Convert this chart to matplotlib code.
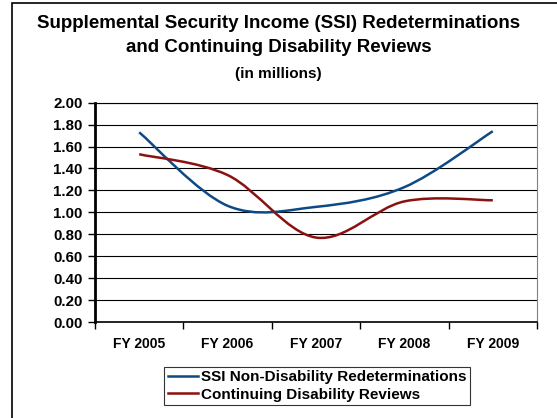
import numpy as np
import matplotlib
matplotlib.use("Agg")
from matplotlib import pyplot as plt
from matplotlib.path import Path
from matplotlib.patches import PathPatch, Rectangle
from matplotlib.lines import Line2D

# donnees (en millions)
years = ["FY 2005", "FY 2006", "FY 2007", "FY 2008", "FY 2009"]
ssi_redet = [1.73, 1.06, 1.05, 1.23, 1.74]
cdr = [1.53, 1.34, 0.77, 1.10, 1.11]
yticks = [0.0, 0.2, 0.4, 0.6, 0.8, 1.0, 1.2, 1.4, 1.6, 1.8, 2.0]

plt.rcParams['font.family'] = ['Liberation Sans', 'DejaVu Sans']
plt.rcParams['font.weight'] = 'bold'


def smooth_path(xs, ys):
    # courbe lissee facon Excel (Catmull-Rom -> Bezier)
    pts = np.column_stack([xs, ys]).astype(float)
    n = len(pts)
    verts = [pts[0]]
    codes = [Path.MOVETO]
    for i in range(n - 1):
        p0 = pts[max(i - 1, 0)]
        p1 = pts[i]
        p2 = pts[i + 1]
        p3 = pts[min(i + 2, n - 1)]
        c1 = p1 + (p2 - p0) / 6
        c2 = p2 - (p3 - p1) / 6
        verts += [c1, c2, p2]
        codes += [Path.CURVE4] * 3
    return Path(verts, codes)


fig = plt.figure(figsize=(5.57, 4.18), dpi=100)
ax = fig.add_axes([95/557, (418-322)/418, (537-95)/557, (322-102.7)/418])

x = np.arange(len(years))
blue = '#0d4a85'
red = '#8b1010'
ax.add_patch(PathPatch(smooth_path(x, ssi_redet), fill=False, edgecolor=blue, lw=1.8, zorder=3))
ax.add_patch(PathPatch(smooth_path(x, cdr), fill=False, edgecolor=red, lw=1.8, zorder=3))

ax.set_xlim(-0.5, len(years) - 0.5)
ax.set_ylim(0, 2.0)
ax.set_yticks(yticks)
ax.set_yticklabels(["%.2f" % v for v in yticks], fontsize=10.8, fontweight='bold')
ax.set_xticks(x)
ax.set_xticklabels(years, fontsize=10, fontweight='bold')
ax.set_xticks(np.arange(len(years) + 1) - 0.5, minor=True)
ax.tick_params(axis='x', which='major', length=0, pad=11)
ax.tick_params(axis='x', which='minor', length=5, width=1, color='black')
ax.tick_params(axis='y', length=5, width=1, pad=4)
ax.yaxis.grid(True, color='black', lw=0.8)
ax.set_axisbelow(True)

ax.spines['left'].set_linewidth(2)
ax.spines['bottom'].set_linewidth(1.2)
ax.spines['right'].set_color('#808080')
ax.spines['top'].set_color('black')
ax.spines['top'].set_linewidth(0.8)

fig.text(0.5, (418-23)/418, "Supplemental Security Income (SSI) Redeterminations",
         ha='center', va='center', fontsize=13.5, fontweight='bold')
fig.text(0.5, (418-48)/418, "and Continuing Disability Reviews",
         ha='center', va='center', fontsize=13.5, fontweight='bold')
fig.text(0.5, (418-74)/418, "(in millions)",
         ha='center', va='center', fontsize=11, fontweight='bold')

handles = [Line2D([], [], color=blue, lw=1.8), Line2D([], [], color=red, lw=1.8)]
leg = fig.legend(handles, ["SSI Non-Disability Redeterminations", "Continuing Disability Reviews"],
                 loc='center', bbox_to_anchor=(317/557, (418-386)/418),
                 prop={'size': 11, 'weight': 'bold'}, frameon=True, fancybox=False,
                 edgecolor='black', borderpad=0.25, labelspacing=0.2,
                 handlelength=2.0, handletextpad=0.15, borderaxespad=0)
leg.get_frame().set_linewidth(0.8)

# cadre exterieur
fig.patches.append(Rectangle((12/557, -0.05), 1.1, (418-3)/418 + 0.05,
                             transform=fig.transFigure, fill=False, edgecolor='black', lw=1.2))

fig.savefig('out.png', dpi=100)
